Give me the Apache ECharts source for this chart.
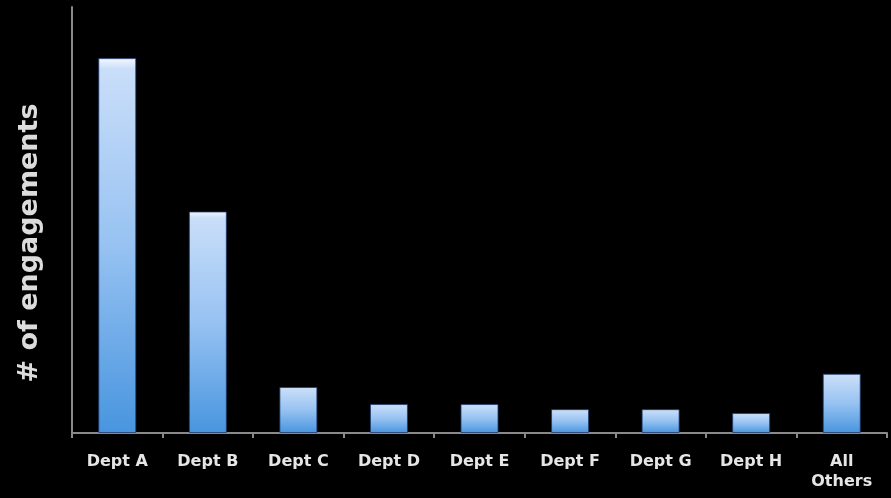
<!DOCTYPE html>
<html><head><meta charset="utf-8">
<script src="https://cdn.jsdelivr.net/npm/echarts@6/dist/echarts.min.js"></script>
<style>html,body{margin:0;padding:0;background:#000;}#c{width:891px;height:498px;}</style>
</head><body><div id="c"></div>
<script>
const categories = ['Dept A','Dept B','Dept C','Dept D','Dept E','Dept F','Dept G','Dept H','All\nOthers'];
const engagements = [88, 52, 10.8, 6.8, 6.8, 5.6, 5.6, 4.7, 13.9];
const yAxisTitle = '# of engagements';

const chart = echarts.init(document.getElementById('c'));
chart.setOption({
  backgroundColor: '#000',
  animation: false,
  grid: { left: 72, right: 4, top: 7, bottom: 65 },
  graphic: [{
    type: 'text',
    rotation: Math.PI / 2,
    x: 30, y: 243,
    style: { text: yAxisTitle, fill: '#dcdcdc', font: 'bold 27px "DejaVu Sans"', textAlign: 'center', textVerticalAlign: 'middle' }
  }],
  xAxis: {
    type: 'category', data: categories,
    axisLine: { lineStyle: { color: '#8a8a8a', width: 2 } },
    axisTick: { show: true, length: 5, lineStyle: { color: '#8a8a8a', width: 2 } },
    axisLabel: { color: '#e6e6e6', fontWeight: 'bold', fontSize: 16, fontFamily: 'DejaVu Sans', margin: 19, lineHeight: 20 }
  },
  yAxis: {
    type: 'value', min: 0, max: 100,
    axisLine: { show: true, lineStyle: { color: '#8a8a8a', width: 2 } },
    axisTick: { show: false }, axisLabel: { show: false }, splitLine: { show: false }
  },
  series: [{
    type: 'bar', data: engagements, barWidth: 38,
    itemStyle: {
      borderColor: 'rgba(30,60,110,0.8)', borderWidth: 1,
      color: new echarts.graphic.LinearGradient(0, 0, 0, 1, [
        { offset: 0, color: '#f4f8ff' },
        { offset: 0.03, color: '#c9def9' },
        { offset: 0.5, color: '#97c2f2' },
        { offset: 1, color: '#4895df' }
      ])
    }
  }]
});
</script></body></html>
